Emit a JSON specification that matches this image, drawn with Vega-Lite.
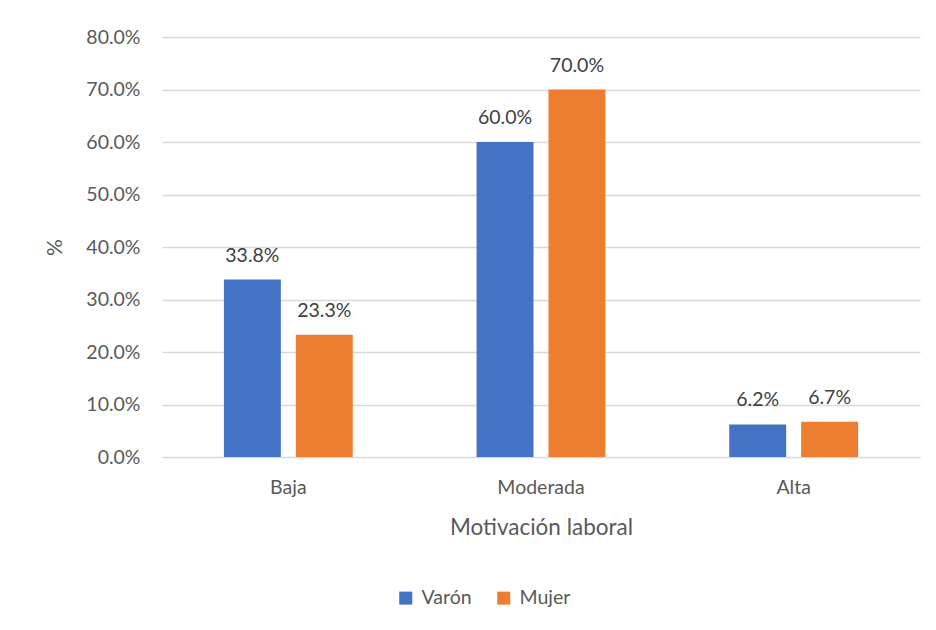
{
  "$schema": "https://vega.github.io/schema/vega-lite/v6.json",
  "width": 758,
  "height": 420,
  "autosize": {"type": "none"},
  "padding": {"left": 162, "top": 37, "right": 16, "bottom": 173},
  "background": "white",
  "config": {
    "view": {"stroke": null},
    "font": "Lato",
    "axis": {"labelFont": "Lato", "titleFont": "Lato", "labelColor": "#595959", "titleColor": "#595959", "titleFontWeight": "normal"},
    "legend": {"labelFont": "Lato", "labelColor": "#595959"}
  },
  "data": {
    "values": [
      {"nivel": "Baja", "sexo": "Varón", "pct": 0.338},
      {"nivel": "Baja", "sexo": "Mujer", "pct": 0.233},
      {"nivel": "Moderada", "sexo": "Varón", "pct": 0.600},
      {"nivel": "Moderada", "sexo": "Mujer", "pct": 0.700},
      {"nivel": "Alta", "sexo": "Varón", "pct": 0.062},
      {"nivel": "Alta", "sexo": "Mujer", "pct": 0.067}
    ]
  },
  "encoding": {
    "x": {
      "field": "nivel", "type": "nominal", "sort": ["Baja", "Moderada", "Alta"],
      "scale": {"paddingInner": 0, "paddingOuter": 0},
      "axis": {
        "title": "Motivación laboral", "labelAngle": 0, "labelFontSize": 19.5, "titleFontSize": 22.5,
        "domain": true, "domainColor": "#d9d9d9", "ticks": false, "labelPadding": 21, "titlePadding": 20
      }
    },
    "xOffset": {
      "field": "sexo", "type": "nominal", "sort": ["Varón", "Mujer"],
      "scale": {"paddingInner": 0.208, "paddingOuter": 0.861}
    },
    "y": {
      "field": "pct", "type": "quantitative",
      "scale": {"domain": [0, 0.8]},
      "axis": {
        "title": "%", "format": ".1%", "values": [0, 0.1, 0.2, 0.3, 0.4, 0.5, 0.6, 0.7, 0.8],
        "labelOverlap": false,
        "labelFontSize": 19.5, "titleFontSize": 21, "domain": false, "ticks": false, "labelPadding": 22,
        "gridColor": "#d9d9d9", "gridWidth": 1.3, "titlePadding": 20
      }
    }
  },
  "layer": [
    {
      "mark": {"type": "bar"},
      "encoding": {
        "color": {
          "field": "sexo", "type": "nominal", "sort": ["Varón", "Mujer"],
          "scale": {"domain": ["Varón", "Mujer"], "range": ["#4472C4", "#ED7D31"]},
          "legend": {
            "title": null, "orient": "none", "legendX": 234, "legendY": 551, "direction": "horizontal", "symbolType": "square",
            "symbolSize": 170, "labelFontSize": 19.5, "columnPadding": 22, "symbolOpacity": 1, "symbolStrokeWidth": 0, "labelOffset": 6
          }
        }
      }
    },
    {
      "mark": {"type": "text", "baseline": "bottom", "dy": -14, "fontSize": 19.5, "color": "#404040", "font": "Lato"},
      "encoding": {
        "text": {"field": "pct", "type": "quantitative", "format": ".1%"}
      }
    }
  ]
}
